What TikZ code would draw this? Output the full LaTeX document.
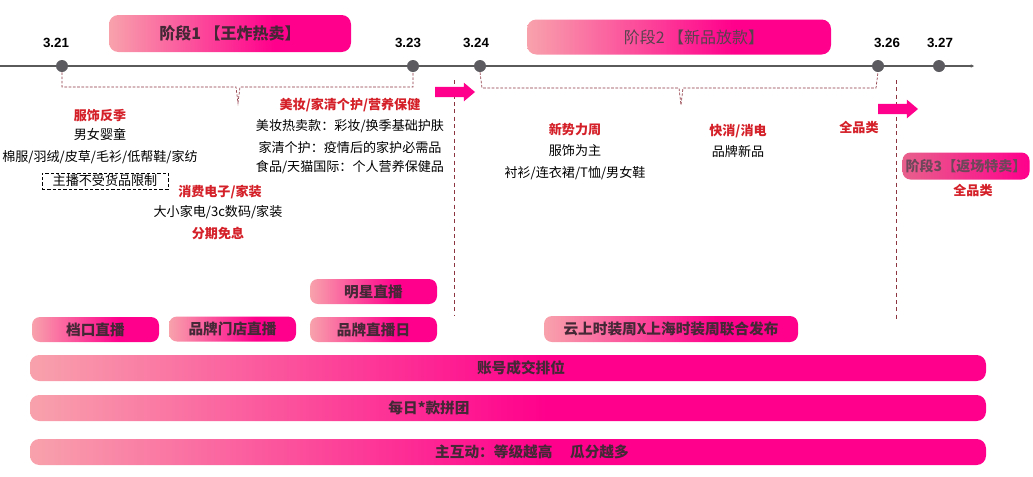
\documentclass[tikz,border=0pt]{standalone}
\usepackage{fontspec}
\usepackage{xcolor}
\setmainfont{Noto Sans CJK SC}
\newfontfamily\datefont{Liberation Sans}
\usetikzlibrary{shapes.arrows,arrows.meta}

\definecolor{pinklight}{RGB}{248,162,172}
\definecolor{pinkhot}{RGB}{255,0,140}
\definecolor{st3left}{RGB}{232,96,140}
\definecolor{linegray}{RGB}{90,90,90}
\definecolor{dotgray}{RGB}{92,92,96}
\definecolor{headred}{RGB}{212,32,40}
\definecolor{boxtext}{RGB}{68,40,54}
\definecolor{st2text}{RGB}{88,66,78}
\definecolor{st3text}{RGB}{110,72,90}
\definecolor{dashred}{RGB}{140,52,64}

\pgfdeclarehorizontalshading{pinkfade}{100bp}{color(0bp)=(pinklight); color(25bp)=(pinklight);
  color(52bp)=(pinkhot); color(100bp)=(pinkhot)}
\pgfdeclarehorizontalshading{pinkfadelate}{100bp}{color(0bp)=(pinklight); color(25bp)=(pinklight);
  color(59bp)=(pinkhot); color(100bp)=(pinkhot)}

\tikzset{
  stagebox/.style={rounded corners=7pt, shade, shading=pinkfadelate, inner sep=0pt,
    font=\fontsize{12}{14}\selectfont\bfseries, text=boxtext},
  livebox/.style={rounded corners=6pt, shade, shading=pinkfadelate, inner sep=0pt,
    minimum width=95.25pt, minimum height=18.75pt,
    font=\fontsize{11}{13}\selectfont\bfseries, text=boxtext},
  barbox/.style={rounded corners=7pt, shade, shading=pinkfade, inner sep=0pt,
    minimum width=717pt, minimum height=19.5pt},
  bartext/.style={font=\fontsize{11}{13}\selectfont\bfseries, text=boxtext, inner sep=0pt},
  datelabel/.style={font=\datefont\bfseries\fontsize{10}{12}\selectfont, inner sep=0pt},
  daydot/.style={circle, fill=dotgray, minimum size=9pt, inner sep=0pt},
  redhead/.style={font=\fontsize{9.8}{11}\selectfont\bfseries, text=headred, inner sep=0pt},
  plain/.style={font=\fontsize{9.8}{11}\selectfont, inner sep=0pt},
  bracketline/.style={dashred, line width=0.5pt, dash pattern=on 2pt off 1.2pt},
  dividerline/.style={dashred, line width=0.6pt, dash pattern=on 3pt off 2.5pt},
  pinkarrow/.style={single arrow, fill=pinkhot, inner sep=0pt, inner ysep=3.6pt,
    single arrow head extend=3.2pt, single arrow tip angle=80, minimum height=30pt}
}

\begin{document}
\begin{tikzpicture}[x=0.75pt, y=-0.75pt]
  \useasboundingbox (0,0) rectangle (1033,476);

  \node[stagebox, minimum width=181.5pt, minimum height=27.75pt] (st1) at (230,33.5) {阶段1 【王炸热卖】};
  \node[stagebox, minimum width=228pt, minimum height=26.25pt] (st2) at (679,37) {};
  \node[font=\fontsize{12}{14}\selectfont, text=st2text, inner sep=0pt] (st2t) at (694,37) {阶段2 【新品放款】};

  \coordinate (t0) at (0,66);
  \coordinate (tend) at (974,66);
  \draw[linegray, line width=1pt, -{Stealth[length=2.5pt,width=2.5pt]}] (t0) -- (tend);
  \node[daydot] (d21) at (62,66) {};
  \node[daydot] (d23) at (413,66) {};
  \node[daydot] (d24) at (480,66) {};
  \node[daydot] (d26) at (878,66) {};
  \node[daydot] (d27) at (939,66) {};
  \node[datelabel] (l21) at (56,43) {3.21};
  \node[datelabel] (l23) at (408,43) {3.23};
  \node[datelabel] (l24) at (476,43) {3.24};
  \node[datelabel] (l26) at (887,43) {3.26};
  \node[datelabel] (l27) at (940,43) {3.27};

  \draw[bracketline] (d21.south) -- (62,87) -- (236,87) -- (238,103) -- (240,87) -- (413,87) -- (d23.south);
  \draw[bracketline] (d24.south) -- (482,88) -- (679,88) -- (681,105) -- (683,88) -- (876,88) -- (d26.south);

  \coordinate (v1a) at (454,80);
  \coordinate (v1b) at (454,315);
  \coordinate (v2a) at (896,80);
  \coordinate (v2b) at (896,320);
  \draw[dividerline] (v1a) -- (v1b);
  \draw[dividerline] (v2a) -- (v2b);

  \node[pinkarrow] (go1) at (452,92) {};
  \node[pinkarrow] (go2) at (895,109) {};

  \node[redhead] (fshead) at (100,116) {服饰反季};
  \node[plain] (fs1) at (100,134) {男女婴童};
  \node[plain] (fs2) at (100,157) {棉服/羽绒/皮草/毛衫/低帮鞋/家纺};
  \node[plain, draw, line width=0.5pt, dash pattern=on 2.5pt off 1.5pt, minimum width=94.5pt,
    minimum height=12pt] (limit) at (105,181) {主播不受货品限制};
  \node[redhead] (xfhead) at (220,192) {消费电子/家装};
  \node[plain] (xf1) at (218,212) {大小家电/3c数码/家装};
  \node[redhead] (xf2) at (218,233) {分期免息};

  \node[redhead] (mzhead) at (350,105) {美妆/家清个护/营养保健};
  \node[plain] (mz1) at (350,126) {美妆热卖款：彩妆/换季基础护肤};
  \node[plain] (mz2) at (350,147) {家清个护：疫情后的家护必需品};
  \node[plain] (mz3) at (350,167) {食品/天猫国际：个人营养保健品};

  \node[redhead] (xshead) at (575,130) {新势力周};
  \node[plain] (xs1) at (575,151) {服饰为主};
  \node[plain] (xs2) at (575,173) {衬衫/连衣裙/T恤/男女鞋};
  \node[redhead] (kxhead) at (738,131) {快消/消电};
  \node[plain] (kx1) at (738,152) {品牌新品};
  \node[redhead] (qp1) at (859,127) {全品类};

  \node[rounded corners=6pt, left color=st3left, right color=pinkhot, inner sep=0pt,
    minimum width=95.25pt, minimum height=20.25pt, font=\fontsize{10.5}{12}\selectfont\bfseries,
    text=st3text] (st3) at (966,166) {阶段3【返场特卖】};
  \node[redhead] (qp2) at (973,190) {全品类};

  \node[livebox] (star) at (373.5,291.5) {明星直播};
  \node[livebox] (stall) at (95.5,329.5) {档口直播};
  \node[livebox] (store) at (232.5,329) {品牌门店直播};
  \node[livebox] (brandday) at (373.5,329.5) {品牌直播日};
  \node[livebox, minimum width=190.5pt, minimum height=19.5pt] (fashion) at (671,329) {云上时装周X上海时装周联合发布};

  \node[barbox] (bar1) at (508,368) {};
  \node[bartext] (bar1t) at (521,368) {账号成交排位};
  \node[barbox] (bar2) at (508,408) {};
  \node[bartext] (bar2t) at (429,408) {每日*款拼团};
  \node[barbox] (bar3) at (508,452) {};
  \node[bartext] (bar3t) at (532,452) {主互动：等级越高\hspace{1.2em}瓜分越多};
\end{tikzpicture}
\end{document}
